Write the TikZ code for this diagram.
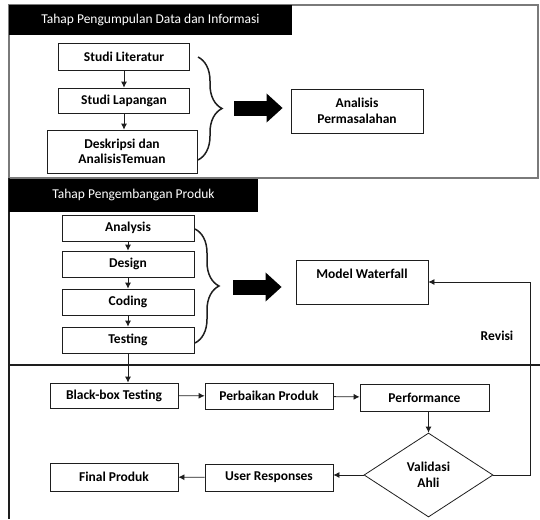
\documentclass[tikz,border=0pt]{standalone}
\usepackage{fontspec}
\setmainfont{Carlito}
\usetikzlibrary{shapes.geometric, arrows.meta, positioning, calc, decorations.pathreplacing}
\definecolor{FrameGray}{HTML}{7A7A7A}
\definecolor{LineBlack}{HTML}{1E1E1E}
\tikzset{
    header/.style={
        fill=black,
        text=white,
        font=\fontsize{13.5}{15}\selectfont,
        minimum width=#1,
        minimum height=31pt,
        inner sep=0pt
    },
    header/.default=250pt,
    stepbox/.style={
        draw=LineBlack,
        fill=white,
        text=black,
        font=\fontsize{13.5}{15.5}\selectfont\bfseries,
        align=center,
        line width=0.8pt,
        minimum width=131pt,
        minimum height=26pt,
        inner sep=0pt
    },
    decision/.style={
        diamond,
        draw=LineBlack,
        fill=white,
        font=\fontsize{13.5}{16}\selectfont\bfseries,
        align=center,
        line width=0.8pt,
        minimum width=129pt,
        minimum height=84pt,
        inner sep=0pt
    },
    arrow/.style={
        -{Latex[length=6pt,width=6pt]},
        line width=0.8pt,
        LineBlack
    },
    bigarrow/.style={
        -{Triangle[length=16pt,width=28pt]},
        line width=15pt,
        black
    },
    brace/.style={
        decorate,
        decoration={brace, amplitude=24pt, aspect=0.5},
        line width=1.5pt,
        LineBlack
    },
    frameline/.style={
        line width=1.2pt,
        FrameGray
    }
}

\begin{document}
\begin{tikzpicture}[x=1pt, y=-1pt]
        \useasboundingbox (0,0) rectangle (540,519);

        % frame of the three stages
        \draw[frameline] (9,178) -- (9,5) -- (538,5) -- (538,178) -- cycle;
        \draw[frameline, LineBlack] (9,178) -- (9,519);
        \draw[frameline, LineBlack] (9,365) -- (540,365);

        % stage 1
        \node[header=283pt, minimum height=30pt] (kumpul) at (150.5,20) {Tahap Pengumpulan Data dan Informasi};
        \node[stepbox, minimum height=27pt] (literatur) at (124,56.5) {Studi Literatur};
        \node[stepbox, minimum height=25pt] (lapangan) at (124,100.5) {Studi Lapangan};
        \node[stepbox, minimum width=150pt, minimum height=43pt] (deskripsi) at (122,151.5) {Deskripsi dan\\AnalisisTemuan};
        \node[stepbox, minimum width=132pt, minimum height=44pt] (permasalahan) at (357,111) {Analisis\\Permasalahan};

        \draw[arrow] (literatur) -- (lapangan);
        \draw[arrow] (lapangan.south) -- (lapangan.south |- deskripsi.north);

        \coordinate (kurung1a) at (198,57);
        \coordinate (kurung1b) at (198,160);
        \coordinate (ujung1) at (222,108);
        \draw[brace] (kurung1a) -- (kurung1b);
        \draw[bigarrow] ([xshift=12pt]ujung1) -- ([xshift=-8pt]permasalahan.west |- ujung1);

        % stage 2
        \node[header=249pt, minimum height=33pt] (kembang) at (133.5,195) {Tahap Pengembangan Produk};
        \node[stepbox, minimum width=132pt] (analysis) at (128,228) {Analysis};
        \node[stepbox, minimum width=132pt] (design) at (128,264) {Design};
        \node[stepbox, minimum width=132pt] (coding) at (128,302) {Coding};
        \node[stepbox, minimum width=132pt] (testing) at (128,340) {Testing};
        \node[stepbox, minimum width=132pt, minimum height=44pt] (waterfall) at (362,282) {Model Waterfall\\~};

        \draw[arrow] (analysis) -- (design);
        \draw[arrow] (design) -- (coding);
        \draw[arrow] (coding) -- (testing);

        \coordinate (kurung2a) at (195,229);
        \coordinate (kurung2b) at (195,343);
        \coordinate (ujung2) at (220,287);
        \draw[brace] (kurung2a) -- (kurung2b);
        \draw[bigarrow] ([xshift=13pt]ujung2) -- ([xshift=-14pt]waterfall.west |- ujung2);

        \node[font=\fontsize{13.5}{15}\selectfont\bfseries] (revisi) at (497,336) {Revisi};

        % stage 3
        \node[stepbox, minimum width=128pt, minimum height=25pt] (blackbox) at (114,395.5) {Black-box Testing};
        \node[stepbox, minimum width=128pt] (perbaikan) at (269,396) {Perbaikan Produk};
        \node[stepbox, minimum width=129pt, minimum height=27pt] (performance) at (424.5,397.5) {Performance};
        \node[decision] (validasi) at (428.5,475) {Validasi\\Ahli};
        \node[stepbox, minimum width=128pt, minimum height=27pt] (userresp) at (269,477.5) {User Responses};
        \node[stepbox, minimum width=128pt, minimum height=28pt] (final) at (114,477) {Final Produk};
        \coordinate (belok) at (530,475);

        \draw[arrow] (testing.south) -- (testing.south |- blackbox.north);
        \draw[arrow] (blackbox) -- (perbaikan);
        \draw[arrow] (perbaikan) -- (performance);
        \draw[arrow] (validasi.north |- performance.south) -- (validasi.north);
        \draw[arrow] (validasi.west) -- (validasi.west -| userresp.east);
        \draw[arrow] (userresp) -- (final);
        \draw[arrow] (validasi.east) -- (belok) |- (waterfall.east);
    \end{tikzpicture}
\end{document}
